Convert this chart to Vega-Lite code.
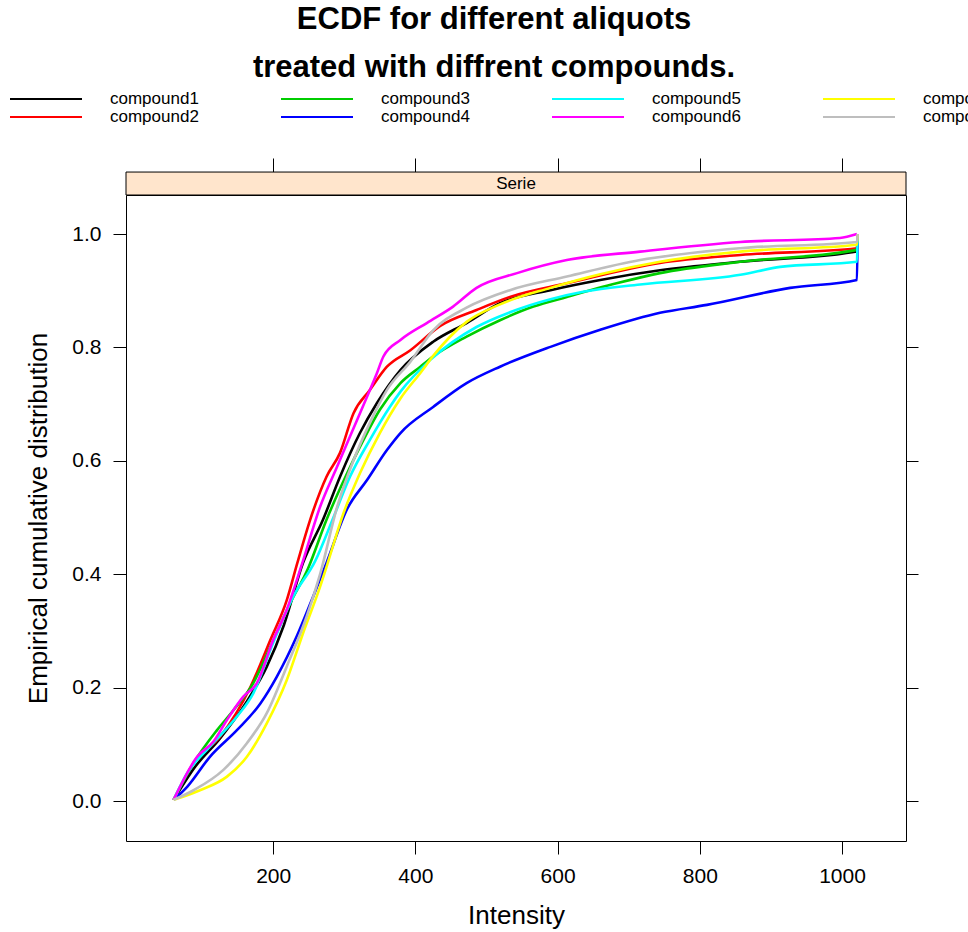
{
  "$schema": "https://vega.github.io/schema/vega-lite/v6.json",
  "width": 780,
  "height": 646,
  "autosize": {"type": "none"},
  "padding": {"left": 126, "top": 195, "right": 62, "bottom": 91},
  "background": "white",
  "config": {
    "font": "Liberation Sans",
    "view": {"stroke": "black", "strokeWidth": 1},
    "axis": {"grid": false, "domain": false, "tickColor": "black", "tickWidth": 1, "labelColor": "black", "titleColor": "black", "labelFont": "Liberation Sans", "titleFont": "Liberation Sans", "titleFontWeight": "normal"}
  },
  "title": {
    "text": ["ECDF for different aliquots", "treated with diffrent compounds."],
    "fontSize": 31,
    "font": "Liberation Sans",
    "fontWeight": "bold",
    "color": "black",
    "anchor": "middle",
    "frame": "group",
    "dx": -22,
    "lineHeight": 48,
    "offset": 5
  },
  "data": {"values": [
    {"compound": "compound1", "x": 60, "y": 0.002},
    {"compound": "compound1", "x": 90, "y": 0.06},
    {"compound": "compound1", "x": 125, "y": 0.11},
    {"compound": "compound1", "x": 160, "y": 0.17},
    {"compound": "compound1", "x": 191, "y": 0.237},
    {"compound": "compound1", "x": 215, "y": 0.31},
    {"compound": "compound1", "x": 242, "y": 0.42},
    {"compound": "compound1", "x": 270, "y": 0.496},
    {"compound": "compound1", "x": 294, "y": 0.572},
    {"compound": "compound1", "x": 322, "y": 0.649},
    {"compound": "compound1", "x": 346, "y": 0.702},
    {"compound": "compound1", "x": 379, "y": 0.76},
    {"compound": "compound1", "x": 425, "y": 0.81},
    {"compound": "compound1", "x": 472, "y": 0.843},
    {"compound": "compound1", "x": 519, "y": 0.878},
    {"compound": "compound1", "x": 590, "y": 0.901},
    {"compound": "compound1", "x": 660, "y": 0.919},
    {"compound": "compound1", "x": 744, "y": 0.936},
    {"compound": "compound1", "x": 856, "y": 0.951},
    {"compound": "compound1", "x": 1021, "y": 0.969},
    {"compound": "compound1", "x": 1022, "y": 1.0},

    {"compound": "compound2", "x": 60, "y": 0.002},
    {"compound": "compound2", "x": 90, "y": 0.07},
    {"compound": "compound2", "x": 125, "y": 0.113},
    {"compound": "compound2", "x": 168, "y": 0.201},
    {"compound": "compound2", "x": 196, "y": 0.284},
    {"compound": "compound2", "x": 219, "y": 0.354},
    {"compound": "compound2", "x": 234, "y": 0.42},
    {"compound": "compound2", "x": 252, "y": 0.496},
    {"compound": "compound2", "x": 275, "y": 0.572},
    {"compound": "compound2", "x": 294, "y": 0.614},
    {"compound": "compound2", "x": 313, "y": 0.684},
    {"compound": "compound2", "x": 336, "y": 0.725},
    {"compound": "compound2", "x": 360, "y": 0.766},
    {"compound": "compound2", "x": 393, "y": 0.795},
    {"compound": "compound2", "x": 435, "y": 0.838},
    {"compound": "compound2", "x": 486, "y": 0.866},
    {"compound": "compound2", "x": 533, "y": 0.889},
    {"compound": "compound2", "x": 613, "y": 0.913},
    {"compound": "compound2", "x": 744, "y": 0.949},
    {"compound": "compound2", "x": 857, "y": 0.963},
    {"compound": "compound2", "x": 1021, "y": 0.975},
    {"compound": "compound2", "x": 1022, "y": 1.0},

    {"compound": "compound3", "x": 60, "y": 0.002},
    {"compound": "compound3", "x": 88, "y": 0.067},
    {"compound": "compound3", "x": 121, "y": 0.125},
    {"compound": "compound3", "x": 144, "y": 0.16},
    {"compound": "compound3", "x": 172, "y": 0.208},
    {"compound": "compound3", "x": 196, "y": 0.272},
    {"compound": "compound3", "x": 224, "y": 0.349},
    {"compound": "compound3", "x": 249, "y": 0.41},
    {"compound": "compound3", "x": 275, "y": 0.496},
    {"compound": "compound3", "x": 304, "y": 0.578},
    {"compound": "compound3", "x": 327, "y": 0.637},
    {"compound": "compound3", "x": 350, "y": 0.69},
    {"compound": "compound3", "x": 379, "y": 0.737},
    {"compound": "compound3", "x": 407, "y": 0.766},
    {"compound": "compound3", "x": 425, "y": 0.784},
    {"compound": "compound3", "x": 472, "y": 0.819},
    {"compound": "compound3", "x": 519, "y": 0.848},
    {"compound": "compound3", "x": 566, "y": 0.872},
    {"compound": "compound3", "x": 613, "y": 0.889},
    {"compound": "compound3", "x": 683, "y": 0.913},
    {"compound": "compound3", "x": 744, "y": 0.931},
    {"compound": "compound3", "x": 857, "y": 0.951},
    {"compound": "compound3", "x": 1021, "y": 0.972},
    {"compound": "compound3", "x": 1022, "y": 1.0},

    {"compound": "compound4", "x": 60, "y": 0.002},
    {"compound": "compound4", "x": 79, "y": 0.025},
    {"compound": "compound4", "x": 111, "y": 0.078},
    {"compound": "compound4", "x": 149, "y": 0.125},
    {"compound": "compound4", "x": 182, "y": 0.172},
    {"compound": "compound4", "x": 205, "y": 0.219},
    {"compound": "compound4", "x": 233, "y": 0.29},
    {"compound": "compound4", "x": 256, "y": 0.36},
    {"compound": "compound4", "x": 275, "y": 0.42},
    {"compound": "compound4", "x": 304, "y": 0.515},
    {"compound": "compound4", "x": 332, "y": 0.566},
    {"compound": "compound4", "x": 360, "y": 0.619},
    {"compound": "compound4", "x": 379, "y": 0.649},
    {"compound": "compound4", "x": 425, "y": 0.695},
    {"compound": "compound4", "x": 472, "y": 0.737},
    {"compound": "compound4", "x": 519, "y": 0.766},
    {"compound": "compound4", "x": 590, "y": 0.801},
    {"compound": "compound4", "x": 660, "y": 0.831},
    {"compound": "compound4", "x": 744, "y": 0.861},
    {"compound": "compound4", "x": 810, "y": 0.875},
    {"compound": "compound4", "x": 927, "y": 0.905},
    {"compound": "compound4", "x": 1021, "y": 0.919},
    {"compound": "compound4", "x": 1022, "y": 1.0},

    {"compound": "compound5", "x": 60, "y": 0.002},
    {"compound": "compound5", "x": 79, "y": 0.049},
    {"compound": "compound5", "x": 111, "y": 0.096},
    {"compound": "compound5", "x": 149, "y": 0.149},
    {"compound": "compound5", "x": 172, "y": 0.19},
    {"compound": "compound5", "x": 200, "y": 0.279},
    {"compound": "compound5", "x": 228, "y": 0.36},
    {"compound": "compound5", "x": 259, "y": 0.423},
    {"compound": "compound5", "x": 285, "y": 0.501},
    {"compound": "compound5", "x": 308, "y": 0.572},
    {"compound": "compound5", "x": 336, "y": 0.637},
    {"compound": "compound5", "x": 364, "y": 0.695},
    {"compound": "compound5", "x": 379, "y": 0.722},
    {"compound": "compound5", "x": 421, "y": 0.778},
    {"compound": "compound5", "x": 486, "y": 0.836},
    {"compound": "compound5", "x": 533, "y": 0.862},
    {"compound": "compound5", "x": 590, "y": 0.885},
    {"compound": "compound5", "x": 636, "y": 0.898},
    {"compound": "compound5", "x": 716, "y": 0.911},
    {"compound": "compound5", "x": 857, "y": 0.928},
    {"compound": "compound5", "x": 913, "y": 0.942},
    {"compound": "compound5", "x": 1021, "y": 0.951},
    {"compound": "compound5", "x": 1022, "y": 1.0},

    {"compound": "compound6", "x": 60, "y": 0.002},
    {"compound": "compound6", "x": 93, "y": 0.078},
    {"compound": "compound6", "x": 116, "y": 0.105},
    {"compound": "compound6", "x": 135, "y": 0.143},
    {"compound": "compound6", "x": 158, "y": 0.184},
    {"compound": "compound6", "x": 177, "y": 0.208},
    {"compound": "compound6", "x": 200, "y": 0.284},
    {"compound": "compound6", "x": 219, "y": 0.337},
    {"compound": "compound6", "x": 240, "y": 0.416},
    {"compound": "compound6", "x": 266, "y": 0.519},
    {"compound": "compound6", "x": 290, "y": 0.59},
    {"compound": "compound6", "x": 308, "y": 0.643},
    {"compound": "compound6", "x": 332, "y": 0.713},
    {"compound": "compound6", "x": 346, "y": 0.755},
    {"compound": "compound6", "x": 355, "y": 0.784},
    {"compound": "compound6", "x": 379, "y": 0.813},
    {"compound": "compound6", "x": 416, "y": 0.843},
    {"compound": "compound6", "x": 453, "y": 0.872},
    {"compound": "compound6", "x": 486, "y": 0.905},
    {"compound": "compound6", "x": 543, "y": 0.931},
    {"compound": "compound6", "x": 613, "y": 0.954},
    {"compound": "compound6", "x": 716, "y": 0.969},
    {"compound": "compound6", "x": 857, "y": 0.986},
    {"compound": "compound6", "x": 997, "y": 0.993},
    {"compound": "compound6", "x": 1021, "y": 1.0},

    {"compound": "compound7", "x": 60, "y": 0.002},
    {"compound": "compound7", "x": 97, "y": 0.019},
    {"compound": "compound7", "x": 135, "y": 0.043},
    {"compound": "compound7", "x": 163, "y": 0.078},
    {"compound": "compound7", "x": 191, "y": 0.137},
    {"compound": "compound7", "x": 219, "y": 0.213},
    {"compound": "compound7", "x": 242, "y": 0.296},
    {"compound": "compound7", "x": 266, "y": 0.378},
    {"compound": "compound7", "x": 275, "y": 0.413},
    {"compound": "compound7", "x": 299, "y": 0.508},
    {"compound": "compound7", "x": 322, "y": 0.578},
    {"compound": "compound7", "x": 350, "y": 0.649},
    {"compound": "compound7", "x": 379, "y": 0.71},
    {"compound": "compound7", "x": 407, "y": 0.755},
    {"compound": "compound7", "x": 425, "y": 0.785},
    {"compound": "compound7", "x": 472, "y": 0.845},
    {"compound": "compound7", "x": 519, "y": 0.876},
    {"compound": "compound7", "x": 590, "y": 0.905},
    {"compound": "compound7", "x": 660, "y": 0.929},
    {"compound": "compound7", "x": 744, "y": 0.951},
    {"compound": "compound7", "x": 857, "y": 0.969},
    {"compound": "compound7", "x": 1021, "y": 0.981},
    {"compound": "compound7", "x": 1022, "y": 1.0},

    {"compound": "compound8", "x": 60, "y": 0.002},
    {"compound": "compound8", "x": 88, "y": 0.019},
    {"compound": "compound8", "x": 130, "y": 0.055},
    {"compound": "compound8", "x": 163, "y": 0.102},
    {"compound": "compound8", "x": 191, "y": 0.155},
    {"compound": "compound8", "x": 219, "y": 0.237},
    {"compound": "compound8", "x": 247, "y": 0.325},
    {"compound": "compound8", "x": 266, "y": 0.4},
    {"compound": "compound8", "x": 290, "y": 0.519},
    {"compound": "compound8", "x": 313, "y": 0.601},
    {"compound": "compound8", "x": 336, "y": 0.667},
    {"compound": "compound8", "x": 360, "y": 0.725},
    {"compound": "compound8", "x": 393, "y": 0.775},
    {"compound": "compound8", "x": 425, "y": 0.83},
    {"compound": "compound8", "x": 472, "y": 0.87},
    {"compound": "compound8", "x": 533, "y": 0.901},
    {"compound": "compound8", "x": 613, "y": 0.925},
    {"compound": "compound8", "x": 716, "y": 0.954},
    {"compound": "compound8", "x": 857, "y": 0.975},
    {"compound": "compound8", "x": 1021, "y": 0.986},
    {"compound": "compound8", "x": 1022, "y": 1.0}
  ]},
  "layer": [
    {
      "mark": {"type": "line", "strokeWidth": 2.6, "interpolate": "monotone"},
      "encoding": {
        "x": {"field": "x", "type": "quantitative", "scale": {"domain": [-7, 1090], "nice": false, "zero": false},
              "axis": {"orient": "bottom", "values": [200, 400, 600, 800, 1000], "format": "d", "tickSize": 13, "labelPadding": 11, "labelFontSize": 21, "title": "Intensity", "titleFontSize": 26, "titlePadding": 16}},
        "y": {"field": "y", "type": "quantitative", "scale": {"domain": [-0.0705, 1.0688], "nice": false, "zero": false},
              "axis": {"orient": "left", "values": [0, 0.2, 0.4, 0.6, 0.8, 1.0], "format": ".1f", "tickSize": 13, "labelPadding": 12, "labelFontSize": 21, "title": "Empirical cumulative distribution", "titleFontSize": 26, "titlePadding": 20}},
        "color": {"field": "compound", "type": "nominal",
                  "scale": {"domain": ["compound1", "compound2", "compound3", "compound4", "compound5", "compound6", "compound7", "compound8"],
                            "range": ["#000000", "#FF0000", "#00CD00", "#0000FF", "#00FFFF", "#FF00FF", "#FFFF00", "#BEBEBE"]},
                  "legend": {"title": null, "orient": "none", "direction": "vertical", "legendX": -90, "legendY": -106, "columns": 4, "symbolType": "M-4,0H4", "symbolSize": 324, "symbolStrokeWidth": 2, "labelOffset": 54, "columnPadding": 78, "rowPadding": 0, "labelFontSize": 17, "labelFont": "Liberation Sans", "labelColor": "black", "labelLimit": 300}}
      }
    },
    {
      "data": {"values": [{"strip": "Serie"}]},
      "mark": {"type": "rect", "fill": "#FFE5CC", "stroke": "black", "strokeWidth": 1},
      "encoding": {
        "x": {"datum": -7, "type": "quantitative", "axis": {"orient": "top", "offset": 23, "values": [200, 400, 600, 800, 1000], "tickSize": 14, "labels": false, "title": null}},
        "x2": {"datum": 1090},
        "y": {"datum": 1.0688, "type": "quantitative", "axis": {"orient": "right", "values": [0, 0.2, 0.4, 0.6, 0.8, 1.0], "tickSize": 12, "labels": false, "title": null}},
        "y2": {"datum": 1.1093}
      }
    },
    {
      "data": {"values": [{"strip": "Serie"}]},
      "mark": {"type": "text", "fontSize": 17, "font": "Liberation Sans", "color": "black", "baseline": "middle", "align": "center"},
      "encoding": {
        "text": {"field": "strip", "type": "nominal"},
        "x": {"datum": 541.5, "type": "quantitative", "axis": null},
        "y": {"datum": 1.089, "type": "quantitative", "axis": null}
      }
    }
  ],
  "resolve": {"axis": {"x": "independent", "y": "independent"}}
}
